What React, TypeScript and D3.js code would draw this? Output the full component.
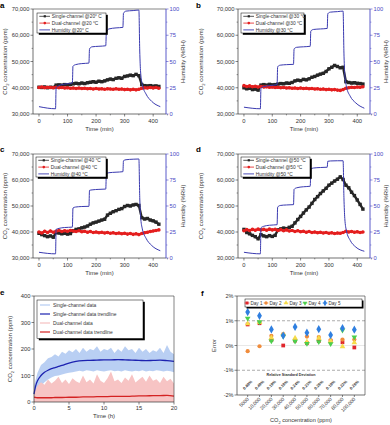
import React from 'react';
import * as d3 from 'd3';

// ---------- DATA ----------
const TIME_MIN = [0, 10, 20, 30, 40, 50, 60, 70, 80, 90, 100, 110, 120, 130, 140, 150, 160, 170, 180, 190, 200, 210, 220, 230, 240, 250, 260, 270, 280, 290, 300, 310, 320, 330, 340, 350, 360, 370, 380, 390, 400, 410, 420];

const SINGLE_20 = [40200, 40100, 40300, 40000, 40200, 40100, 41000, 41100, 41000, 41200, 41100, 41300, 41500, 41700, 41500, 41800, 41600, 41900, 42100, 42300, 42100, 42500, 42300, 42600, 43000, 43300, 43100, 43600, 43800, 43600, 44300, 44500, 44800, 44600, 45100, 44600, 41200, 40800, 40700, 40800, 40600, 40700, 40500];
const DUAL_20 = [40100, 40300, 40000, 40200, 40100, 40000, 40200, 40000, 40100, 39900, 40000, 39800, 39900, 39700, 39900, 39700, 39800, 39600, 39700, 39500, 39700, 39500, 39600, 39400, 39600, 39500, 39400, 39600, 39400, 39500, 39300, 39400, 39200, 39400, 39200, 39400, 39800, 40000, 39900, 40100, 39900, 40100, 39800];

const SINGLE_30 = [40000, 39600, 39800, 39300, 39500, 39100, 41000, 41200, 41000, 41300, 41100, 41200, 41400, 41600, 41500, 41800, 41700, 42000, 42600, 42900, 42700, 43200, 43000, 43400, 44000, 44300, 44800, 45200, 45500, 46200, 47200, 47800, 48500, 48100, 47600, 47800, 42300, 42000, 41800, 41900, 41700, 41600, 41400];
const DUAL_30 = [40800, 40500, 40700, 40400, 40600, 40300, 40500, 40300, 40400, 40200, 40300, 40100, 40200, 40000, 40100, 39900, 40000, 39800, 39900, 39700, 39900, 39700, 39800, 39600, 39700, 39500, 39600, 39400, 39500, 39300, 39400, 39200, 39300, 39100, 39000, 39300, 39800, 40000, 40200, 40100, 40300, 40200, 40400];

const SINGLE_40 = [39500, 39000, 38600, 38200, 38500, 38000, 39800, 39600, 39300, 39500, 39200, 39400, 40500, 41000, 41200, 41600, 41900, 42300, 43000, 43500, 43800, 44200, 44600, 44900, 46500, 47200, 47800, 48200, 48700, 49000, 49800, 50200, 50000, 50400, 50600, 50200, 45500, 45000, 45200, 44600, 44300, 43800, 43000];
const DUAL_40 = [40000, 39600, 40300, 39800, 40400, 39900, 40300, 40600, 40200, 40500, 40300, 40600, 40400, 40200, 40500, 40100, 40300, 39900, 40200, 39800, 40000, 39700, 39900, 39600, 39800, 39500, 39700, 39400, 39600, 39300, 39500, 39200, 39400, 39100, 39300, 39000, 39400, 39700, 39900, 40200, 40400, 40600, 40800];

const SINGLE_50 = [41000, 39800, 39300, 38700, 38200, 37400, 39000, 38500, 38200, 38600, 38300, 38700, 40800, 41200, 41500, 41300, 41800, 42200, 43500, 44800, 46000, 47300, 48500, 49600, 51000, 52500, 53600, 54800, 55800, 56800, 58000, 58800, 59600, 60300, 61200, 60200, 58000, 57000, 55300, 54000, 52300, 50600, 48800];
const DUAL_50 = [40500, 40900, 40600, 41000, 40700, 41100, 40800, 41000, 40700, 41100, 40800, 41000, 40600, 40900, 40500, 40800, 40400, 40600, 40200, 40500, 40100, 40300, 39900, 40200, 39800, 40000, 39700, 39900, 39600, 39800, 39500, 39700, 39400, 39600, 39500, 39800, 40300, 40000, 40200, 39900, 40100, 39800, 40000];

const HUM_TIME = [0, 58, 60, 70, 90, 117, 119, 128, 150, 175, 177, 186, 210, 234, 236, 245, 270, 294, 296, 305, 330, 350, 353, 356, 362, 375, 395, 425];
const HUM_20 = [7, 5, 25, 27, 28.5, 29.5, 45.5, 47, 48, 48.5, 62, 64, 64.5, 65, 78, 81, 82, 82.5, 96, 98, 98.5, 99, 60, 40, 28, 19, 12, 7];
const HUM_30 = [6.5, 5, 24.5, 26, 27, 28, 45, 46.5, 47, 47.3, 62, 63.5, 64, 64.5, 79, 80.5, 81, 81.5, 95.5, 97, 97.5, 98, 58, 38, 26, 17, 10.5, 5.5];
const HUM_40 = [5.5, 4, 27.5, 28.5, 29.3, 29.7, 48, 49, 49.5, 49.7, 65, 65.5, 66, 66.3, 81, 82, 82.5, 83, 93.5, 94.5, 95, 95.2, 58, 40, 28, 19, 12, 7];
const HUM_50 = [5.5, 4, 29, 30.5, 31.5, 32, 49, 50.5, 51, 51.3, 66, 67.5, 68.5, 69, 85.5, 86.5, 87, 87.3, 93, 93.3, 93.5, 93.5, 58, 38, 26, 17, 10.5, 6.5];

const CO2_TICKS = [30000, 40000, 50000, 60000, 70000];
const HUM_TICKS = [0, 25, 50, 75, 100];
const TIME_TICKS = [0, 100, 200, 300, 400];

// panel e
const E_TIME_TREND = [0, 0.25, 0.5, 1, 1.5, 2, 2.5, 3, 3.5, 4, 5, 6, 7, 8, 9, 10, 11, 12, 13, 14, 15, 16, 17, 18, 19, 20];
const E_SINGLE_TREND = [30, 62, 80, 100, 112, 120, 126, 130, 134, 138, 147, 153, 156, 157, 158, 159, 159, 160, 159, 158, 157, 156, 157, 158, 156, 153];
const E_DUAL_TREND = [18, 17, 16, 16, 16, 16, 16, 17, 17, 17, 18, 18, 19, 19, 20, 20, 21, 21, 21, 22, 23, 23, 24, 24, 25, 22];
const E_TIME_BAND = [0, 0.5, 1, 1.5, 2, 2.5, 3, 3.5, 4, 4.5, 5, 5.5, 6, 6.5, 7, 7.5, 8, 8.5, 9, 9.5, 10, 10.5, 11, 11.5, 12, 12.5, 13, 13.5, 14, 14.5, 15, 15.5, 16, 16.5, 17, 17.5, 18, 18.5, 19, 19.5, 20];
const E_SINGLE_HI = [60, 110, 140, 150, 165, 170, 180, 172, 190, 182, 195, 188, 200, 185, 205, 190, 200, 195, 210, 190, 200, 195, 205, 185, 200, 190, 210, 195, 200, 185, 205, 190, 200, 185, 195, 190, 205, 185, 215, 190, 180];
const E_SINGLE_LO = [15, 40, 60, 75, 85, 92, 98, 100, 104, 108, 110, 112, 115, 118, 115, 120, 118, 115, 120, 117, 115, 118, 120, 116, 118, 115, 120, 117, 115, 118, 116, 120, 115, 118, 116, 120, 118, 115, 118, 116, 112];
const E_DUAL_HI = [35, 60, 75, 65, 85, 70, 80, 95, 72, 85, 68, 90, 78, 72, 100, 75, 85, 70, 105, 80, 72, 90, 115, 78, 85, 72, 92, 80, 105, 74, 85, 95, 76, 100, 80, 86, 72, 95, 78, 88, 70];
const E_Y_TICKS = [0, 100, 200, 300, 400];
const E_X_TICKS = [0, 5, 10, 15, 20];

// panel f
const F_CATS = ['5000', '10,000', '20,000', '30,000', '40,000', '50,000', '60,000', '70,000', '80,000', '100,000'];
const F_DAY1 = [0.85, 0.9, 0.22, 0.0, 0.2, 0.1, 0.18, 0.18, 0.13, -0.08];
const F_DAY2 = [-0.23, -0.03, 0.39, 0.46, 0.24, 0.36, 0.34, 0.22, 0.24, 0.24];
const F_DAY3 = [0.88, 0.93, 0.31, 0.44, 0.3, 0.15, 0.3, 0.18, -0.04, 0.12];
const F_DAY4 = [1.1, 0.95, 0.18, 0.38, 0.17, 0.08, 0.15, 0.07, 0.62, 0.34];
const F_DAY5 = [1.35, 1.2, 0.65, 0.4, 0.75, 0.52, 0.66, 0.42, 0.7, 0.64];
const F_RSD = ['0.68%', '0.49%', '0.19%', '0.18%', '0.24%', '0.21%', '0.26%', '0.18%', '0.22%', '0.26%'];
const F_Y_TICKS = [2, 1, 0, -1, -2];
const F_DAY_NAMES = ['Day 1', 'Day 2', 'Day 3', 'Day 4', 'Day 5'];

// ---------- STYLE ----------
const FONT = '"Liberation Sans", Arial, Helvetica, sans-serif';
const TXT = '#333';
const AX = '#333';
const HUM_LINE = '#3a3ab0';
const HUM_AX = '#4848c4';
const SINGLE_COL = '#262626';
const DUAL_COL = '#e41e1e';
const DAY_COLORS = ['#e0262c', '#f08c3c', '#f6dc4a', '#4ccf4c', '#2f7fe0'];
const DAY_SYMBOLS = [d3.symbolSquare, d3.symbolCircle, d3.symbolTriangle, d3.symbolTriangle, d3.symbolDiamond];

const X_DOMAIN = [-21, 445];

type Box = { l: number; r: number; t: number; b: number };

function CO2Label({ x, y, rotate, size, anchor = 'middle' }: any) {
  return (
    <text x={x} y={y} transform={rotate ? `rotate(${rotate},${x},${y})` : undefined} textAnchor={anchor} fontSize={size} fill={TXT} fontFamily={FONT}>
      CO<tspan fontSize={size * 0.7} dy={size * 0.3}>2</tspan><tspan dy={-size * 0.3}> concentration (ppm)</tspan>
    </text>
  );
}

function Frame({ box, rightColor }: { box: Box; rightColor?: string }) {
  return (
    <g>
      <line x1={box.l} x2={box.r} y1={box.t} y2={box.t} stroke={AX} strokeWidth={0.6} />
      <line x1={box.l} x2={box.r} y1={box.b} y2={box.b} stroke={AX} strokeWidth={0.7} />
      <line x1={box.l} x2={box.l} y1={box.t} y2={box.b} stroke={AX} strokeWidth={0.7} />
      <line x1={box.r} x2={box.r} y1={box.t} y2={box.b} stroke={rightColor || AX} strokeWidth={rightColor ? 0.9 : 0.6} />
    </g>
  );
}

function TimeLegend({ x0, y0, w, labels }: { x0: number; y0: number; w: number; labels: string[] }) {
  const h = 20;
  const cols = [SINGLE_COL, DUAL_COL, HUM_LINE];
  return (
    <g>
      <rect x={x0 + 1.8} y={y0 + 1.8} width={w} height={h} fill="#000" />
      <rect x={x0} y={y0} width={w} height={h} fill="#fff" stroke="#000" strokeWidth={0.5} />
      {labels.map((lab, i) => {
        const cy = y0 + 3.3 + i * 6.8;
        return (
          <g key={i}>
            <line x1={x0 + 2.3} x2={x0 + 13} y1={cy} y2={cy} stroke={cols[i]} strokeWidth={i === 2 ? 0.9 : 0.8} />
            {i === 0 && <rect x={x0 + 6.7} y={cy - 1.1} width={2.2} height={2.2} fill={SINGLE_COL} />}
            {i === 1 && <circle cx={x0 + 7.8} cy={cy} r={1.3} fill={DUAL_COL} />}
            <text x={x0 + 14.8} y={cy + 1.7} fontSize={4.8} fill={TXT} fontFamily={FONT}>{lab}</text>
          </g>
        );
      })}
    </g>
  );
}

function TimePanel(p: {
  box: Box; single: number[]; dual: number[]; hum: number[]; letter: string; letterX: number; letterY: number;
  leftTitleX: number; rightTitleX: number; legend: { x0: number; y0: number; w: number; labels: string[] };
}) {
  const { box } = p;
  const x = d3.scaleLinear().domain(X_DOMAIN).range([box.l, box.r]);
  const y = d3.scaleLinear().domain([30000, 70000]).range([box.b, box.t]);
  const yr = d3.scaleLinear().domain([0, 100]).range([box.b, box.t]);
  const ls = d3.line<number>().x((_, i) => x(TIME_MIN[i])).y((d) => y(d));
  const lh = d3.line<number>().x((_, i) => x(HUM_TIME[i])).y((d) => yr(d)).curve(d3.curveMonotoneX);
  const minorX = TIME_TICKS.map((t) => t + 50);
  const minorY = CO2_TICKS.slice(0, -1).map((t) => t + 5000);
  const minorR = HUM_TICKS.slice(0, -1).map((t) => t + 12.5);
  const midY = (box.t + box.b) / 2;
  return (
    <g>
      <Frame box={box} rightColor={HUM_AX} />
      {TIME_TICKS.map((t) => (
        <g key={t}>
          <line x1={x(t)} x2={x(t)} y1={box.b} y2={box.b + 2.5} stroke={AX} strokeWidth={0.6} />
          <text x={x(t)} y={box.b + 8.5} textAnchor="middle" fontSize={5.8} fill={TXT} fontFamily={FONT}>{t}</text>
        </g>
      ))}
      {minorX.map((t) => <line key={t} x1={x(t)} x2={x(t)} y1={box.b} y2={box.b + 1.4} stroke={AX} strokeWidth={0.5} />)}
      {CO2_TICKS.map((t) => (
        <g key={t}>
          <line x1={box.l - 2.5} x2={box.l} y1={y(t)} y2={y(t)} stroke={AX} strokeWidth={0.6} />
          <text x={box.l - 3.5} y={y(t) + 2} textAnchor="end" fontSize={5.8} fill={TXT} fontFamily={FONT}>{d3.format(',')(t)}</text>
        </g>
      ))}
      {minorY.map((t) => <line key={t} x1={box.l - 1.4} x2={box.l} y1={y(t)} y2={y(t)} stroke={AX} strokeWidth={0.5} />)}
      {HUM_TICKS.map((t) => (
        <g key={t}>
          <line x1={box.r} x2={box.r + 2.5} y1={yr(t)} y2={yr(t)} stroke={HUM_AX} strokeWidth={0.6} />
          <text x={box.r + 3.5} y={yr(t) + 2} textAnchor="start" fontSize={5.8} fill={HUM_AX} fontFamily={FONT}>{t}</text>
        </g>
      ))}
      {minorR.map((t) => <line key={t} x1={box.r} x2={box.r + 1.4} y1={yr(t)} y2={yr(t)} stroke={HUM_AX} strokeWidth={0.5} />)}
      <text x={(box.l + box.r) / 2} y={box.b + 17} textAnchor="middle" fontSize={6} fill={TXT} fontFamily={FONT}>Time (min)</text>
      <CO2Label x={p.leftTitleX} y={midY} rotate={-90} size={6} />
      <text x={p.rightTitleX} y={midY} transform={`rotate(-90,${p.rightTitleX},${midY})`} textAnchor="middle" fontSize={6} fill={TXT} fontFamily={FONT}>Humidity (%RH)</text>
      <text x={p.letterX} y={p.letterY} fontSize={8} fontWeight="bold" fill="#000" fontFamily={FONT}>{p.letter}</text>

      <path d={ls(p.single) || ''} fill="none" stroke={SINGLE_COL} strokeWidth={2.4} />
      {p.single.map((v, i) => <rect key={i} x={x(TIME_MIN[i]) - 1.7} y={y(v) - 1.7} width={3.4} height={3.4} fill={SINGLE_COL} />)}
      <path d={ls(p.dual) || ''} fill="none" stroke={DUAL_COL} strokeWidth={2.4} />
      {p.dual.map((v, i) => <circle key={i} cx={x(TIME_MIN[i])} cy={y(v)} r={1.8} fill={DUAL_COL} />)}
      <path d={lh(p.hum) || ''} fill="none" stroke={HUM_LINE} strokeWidth={1} />
      <TimeLegend {...p.legend} />
    </g>
  );
}

function PanelE() {
  const box: Box = { l: 34, r: 174, t: 296, b: 402 };
  const x = d3.scaleLinear().domain([0, 20]).range([box.l, box.r]);
  const y = d3.scaleLinear().domain([0, 400]).range([box.b, box.t]);
  const bandS = d3.area<number>().x((_, i) => x(E_TIME_BAND[i])).y0((_, i) => y(E_SINGLE_LO[i])).y1((d) => y(d));
  const bandD = d3.area<number>().x((_, i) => x(E_TIME_BAND[i])).y0(() => y(0)).y1((d) => y(d));
  const trend = d3.line<number>().x((_, i) => x(E_TIME_TREND[i])).y((d) => y(d)).curve(d3.curveMonotoneX);
  const legendRows = [
    { lab: 'Single-channel data', col: '#b4ccf2', w: 1.2 },
    { lab: 'Single-channel data trendline', col: '#1c22b0', w: 1.2 },
    { lab: 'Dual-channel data', col: '#f6c0c0', w: 1.2 },
    { lab: 'Dual-channel data trendline', col: '#d42222', w: 1.2 },
  ];
  const lx = 37, ly = 300, lw = 106, lh = 38.5;
  return (
    <g>
      <path d={bandS(E_SINGLE_HI) || ''} fill="#b9cff3" />
      <path d={bandD(E_DUAL_HI) || ''} fill="#f7c4c4" />
      <path d={trend(E_SINGLE_TREND) || ''} fill="none" stroke="#1c22b0" strokeWidth={1.3} />
      <path d={trend(E_DUAL_TREND) || ''} fill="none" stroke="#d42222" strokeWidth={1.3} />
      <Frame box={box} />
      {E_X_TICKS.map((t) => (
        <g key={t}>
          <line x1={x(t)} x2={x(t)} y1={box.b} y2={box.b + 2.5} stroke={AX} strokeWidth={0.6} />
          <text x={x(t)} y={box.b + 8} textAnchor="middle" fontSize={5.8} fill={TXT} fontFamily={FONT}>{t}</text>
        </g>
      ))}
      {E_Y_TICKS.map((t) => (
        <g key={t}>
          <line x1={box.l - 2.5} x2={box.l} y1={y(t)} y2={y(t)} stroke={AX} strokeWidth={0.6} />
          <text x={box.l - 3.5} y={y(t) + 2} textAnchor="end" fontSize={5.8} fill={TXT} fontFamily={FONT}>{t}</text>
        </g>
      ))}
      <text x={(box.l + box.r) / 2} y={418} textAnchor="middle" fontSize={6} fill={TXT} fontFamily={FONT}>Time (h)</text>
      <CO2Label x={12} y={(box.t + box.b) / 2} rotate={-90} size={6} />
      <text x={0} y={295} fontSize={8} fontWeight="bold" fill="#000" fontFamily={FONT}>e</text>
      <rect x={lx + 1.8} y={ly + 1.8} width={lw} height={lh} fill="#000" />
      <rect x={lx} y={ly} width={lw} height={lh} fill="#fff" stroke="#000" strokeWidth={0.5} />
      {legendRows.map((r, i) => {
        const cy = ly + 5 + i * 9;
        return (
          <g key={i}>
            <line x1={lx + 3} x2={lx + 13} y1={cy} y2={cy} stroke={r.col} strokeWidth={r.w} />
            <text x={lx + 16} y={cy + 1.7} fontSize={4.9} fill={TXT} fontFamily={FONT}>{r.lab}</text>
          </g>
        );
      })}
    </g>
  );
}

function Marker({ type, color, cx, cy, size }: any) {
  const sym = DAY_SYMBOLS[type];
  const path = d3.symbol().type(sym).size(size)() || '';
  const rot = type === 3 ? 180 : 0;
  return <path d={path} transform={`translate(${cx},${cy}) rotate(${rot})`} fill={color} />;
}

function PanelF() {
  const box: Box = { l: 237, r: 365, t: 296, b: 395 };
  const x = d3.scalePoint<string>().domain(F_CATS).range([box.l, box.r]).padding(0.9);
  const y = d3.scaleLinear().domain([-2, 2]).range([box.b, box.t]);
  const days = [F_DAY1, F_DAY2, F_DAY3, F_DAY4, F_DAY5];
  const lx = 245, ly = 299, lw = 117, lh = 8;
  const legX = [247, 266, 286, 305, 325];
  return (
    <g>
      <line x1={box.l} x2={box.r} y1={y(0)} y2={y(0)} stroke="#d0d0d0" strokeWidth={0.5} />
      <line x1={box.l} x2={box.r} y1={y(1)} y2={y(1)} stroke="#888" strokeWidth={0.7} strokeDasharray="3,2" />
      <line x1={box.l} x2={box.r} y1={y(-1)} y2={y(-1)} stroke="#888" strokeWidth={0.7} strokeDasharray="3,2" />
      <Frame box={box} />
      {F_Y_TICKS.map((t) => (
        <g key={t}>
          <line x1={box.l - 2.5} x2={box.l} y1={y(t)} y2={y(t)} stroke={AX} strokeWidth={0.6} />
          <text x={box.l - 3.5} y={y(t) + 2} textAnchor="end" fontSize={5.5} fill={TXT} fontFamily={FONT}>{`${t}%`}</text>
        </g>
      ))}
      {F_CATS.map((c) => {
        const cx = x(c) as number;
        return (
          <g key={c}>
            <line x1={cx} x2={cx} y1={box.b} y2={box.b + 2} stroke={AX} strokeWidth={0.6} />
            <text x={cx + 1.5} y={box.b + 4.5} transform={`rotate(-45,${cx + 1.5},${box.b + 4.5})`} textAnchor="end" fontSize={5} fill={TXT} fontFamily={FONT}>{c}</text>
          </g>
        );
      })}
      {F_RSD.map((r, i) => {
        const cx = x(F_CATS[i]) as number;
        const cy = 385;
        return <text key={i} x={cx} y={cy + 1.3} transform={`rotate(-45,${cx},${cy})`} textAnchor="middle" fontSize={4} fontWeight="bold" fill={TXT} fontFamily={FONT}>{r}</text>;
      })}
      <text x={291} y={375.5} textAnchor="middle" fontSize={4.3} fontWeight="bold" fill={TXT} fontFamily={FONT} textLength={49} lengthAdjust="spacingAndGlyphs">Relative Standard Deviation</text>
      {days.map((vals, k) => vals.map((v, i) => (
        <Marker key={`${k}-${i}`} type={k} color={DAY_COLORS[k]} cx={x(F_CATS[i]) as number} cy={y(v)} size={k === 4 ? 20 : 14} />
      )))}
      <CO2Label x={301} y={422} size={5.6} />
      <text x={216} y={(box.t + box.b) / 2} transform={`rotate(-90,216,${(box.t + box.b) / 2})`} textAnchor="middle" fontSize={5.8} fill={TXT} fontFamily={FONT}>Error</text>
      <text x={201} y={296} fontSize={8} fontWeight="bold" fill="#000" fontFamily={FONT}>f</text>
      <rect x={lx + 1.5} y={ly + 1.5} width={lw} height={lh} fill="#000" />
      <rect x={lx} y={ly} width={lw} height={lh} fill="#fff" stroke="#000" strokeWidth={0.5} />
      {F_DAY_NAMES.map((n, k) => (
        <g key={n}>
          <line x1={legX[k] - 2.5} x2={legX[k] + 2.5} y1={ly + 4} y2={ly + 4} stroke={DAY_COLORS[k]} strokeWidth={0.6} />
          <Marker type={k} color={DAY_COLORS[k]} cx={legX[k]} cy={ly + 4} size={k === 4 ? 12 : 9} />
          <text x={legX[k] + 3.5} y={ly + 5.7} fontSize={4.6} fill={TXT} fontFamily={FONT}>{n}</text>
        </g>
      ))}
    </g>
  );
}

export default function App() {
  return (
    <svg width={390} height={425} viewBox="0 0 390 425" style={{ position: 'absolute', left: 0, top: 0, background: '#fff' }}>
      <rect x={0} y={0} width={390} height={425} fill="#fff" />
      <TimePanel box={{ l: 33, r: 166, t: 9, b: 114 }} single={SINGLE_20} dual={DUAL_20} hum={HUM_20} letter="a" letterX={0} letterY={8}
        leftTitleX={7} rightTitleX={185}
        legend={{ x0: 37, y0: 13, w: 69, labels: ['Single-channel @20° C', 'Dual-channel @20 °C', 'Humidity @20° C'] }} />
      <TimePanel box={{ l: 238, r: 370, t: 9, b: 114 }} single={SINGLE_30} dual={DUAL_30} hum={HUM_30} letter="b" letterX={196} letterY={8}
        leftTitleX={203} rightTitleX={388}
        legend={{ x0: 241, y0: 13, w: 63, labels: ['Single-channel @30 °C', 'Dual-channel @30 °C', 'Humidity @30 °C'] }} />
      <TimePanel box={{ l: 33, r: 166, t: 154, b: 258 }} single={SINGLE_40} dual={DUAL_40} hum={HUM_40} letter="c" letterX={0} letterY={152}
        leftTitleX={7} rightTitleX={185}
        legend={{ x0: 36, y0: 157, w: 70, labels: ['Single-channel @40 °C', 'Dual-channel @40 °C', 'Humidity @40 °C'] }} />
      <TimePanel box={{ l: 238, r: 370, t: 154, b: 258 }} single={SINGLE_50} dual={DUAL_50} hum={HUM_50} letter="d" letterX={196} letterY={152}
        leftTitleX={203} rightTitleX={388}
        legend={{ x0: 241, y0: 157, w: 69, labels: ['Single-channel @50 °C', 'Dual-channel @50 °C', 'Humidity @50 °C'] }} />
      <PanelE />
      <PanelF />
    </svg>
  );
}
